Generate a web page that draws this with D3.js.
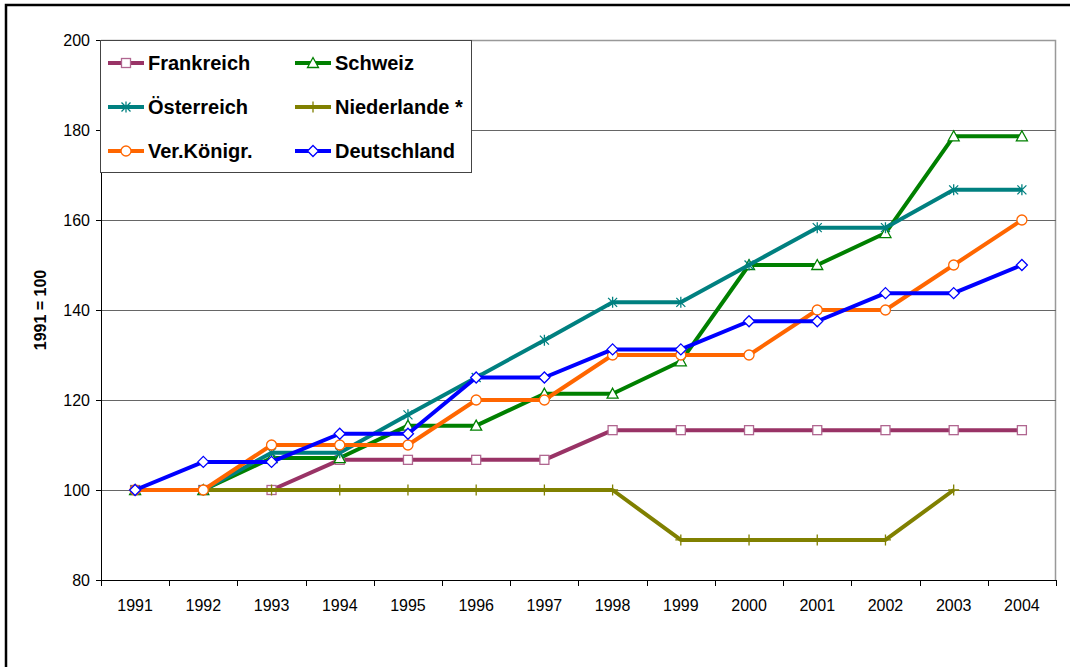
<!DOCTYPE html>
<html>
<head>
<meta charset="utf-8">
<script src="https://cdn.jsdelivr.net/npm/d3@7"></script>
<style>
  body { margin: 0; background: #fff; }
  text { font-family: "Liberation Sans", Arial, sans-serif; }
</style>
</head>
<body>
<div id="chart"></div>
<script>
// years on the x axis
var years = ["1991","1992","1993","1994","1995","1996","1997","1998","1999","2000","2001","2002","2003","2004"];
var yTicks = [80, 100, 120, 140, 160, 180, 200];

// series values, index 1991 = 100
var frankreich  = [100, 100, 100, 106.7, 106.7, 106.7, 106.7, 113.3, 113.3, 113.3, 113.3, 113.3, 113.3, 113.3];
var schweiz     = [100, 100, 107.1, 107.1, 114.3, 114.3, 121.4, 121.4, 128.6, 150, 150, 157.1, 178.6, 178.6];
var oesterreich = [100, 100, 108.3, 108.3, 116.7, 125, 133.3, 141.7, 141.7, 150, 158.3, 158.3, 166.7, 166.7];
var niederlande = [100, 100, 100, 100, 100, 100, 100, 100, 88.9, 88.9, 88.9, 88.9, 100, null];
var vkoenigr    = [100, 100, 110, 110, 110, 120, 120, 130, 130, 130, 140, 140, 150, 160];
var deutschland = [100, 106.25, 106.25, 112.5, 112.5, 125, 125, 131.25, 131.25, 137.5, 137.5, 143.75, 143.75, 150];

var series = [
  {name: "Frankreich",    values: frankreich,  color: "#993366", marker: "square"},
  {name: "Schweiz",       values: schweiz,     color: "#008000", marker: "triangle"},
  {name: "Österreich",    values: oesterreich, color: "#008080", marker: "star"},
  {name: "Niederlande *", values: niederlande, color: "#808000", marker: "plus"},
  {name: "Ver.Königr.",   values: vkoenigr,    color: "#FF6600", marker: "circle"},
  {name: "Deutschland",   values: deutschland, color: "#0000FF", marker: "diamond"}
];

var W = 1070, H = 667;
var margin = {top: 40, right: 14, bottom: 87, left: 101};
var width = W - margin.left - margin.right,
    height = H - margin.top - margin.bottom;

var root = d3.select("#chart").append("svg")
    .attr("width", W)
    .attr("height", H);

// outer frame (only left and top edges show in the picture)
root.append("rect")
    .attr("x", 6).attr("y", 5)
    .attr("width", W + 20).attr("height", H + 20)
    .attr("fill", "none")
    .attr("stroke", "#000")
    .attr("stroke-width", 2.5);

var svg = root.append("g")
    .attr("transform", `translate(${margin.left},${margin.top})`);

var xscale = d3.scaleBand().domain(years).range([0, width]);
var yscale = d3.scaleLinear().domain([80, 200]).range([height, 0]);

// plot area border (top and right)
svg.append("path")
    .attr("d", `M0,0.5H${width - 0.5}V${height}`)
    .attr("fill", "none")
    .attr("stroke", "#999")
    .attr("stroke-width", 1.5);

// gridlines
svg.selectAll(".grid")
    .data(yTicks.filter(function(d){ return d > 80 && d < 200; }))
    .join("line")
    .attr("class", "grid")
    .attr("x1", 0).attr("x2", width)
    .attr("y1", function(d){ return Math.round(yscale(d)) + 0.5; })
    .attr("y2", function(d){ return Math.round(yscale(d)) + 0.5; })
    .attr("stroke", "#666")
    .attr("stroke-width", 1);

// y axis
var yAxis = d3.axisLeft(yscale).tickValues(yTicks).tickSize(5).tickPadding(6);
var gy = svg.append("g").call(yAxis);
gy.select(".domain").attr("stroke", "#000");
gy.selectAll("text").style("font-size", "16px").attr("fill", "#000");

// x axis: ticks between categories
var gx = svg.append("g").attr("transform", `translate(0,${height})`);
gx.append("line")
    .attr("x1", 0).attr("x2", width)
    .attr("y1", 0.5).attr("y2", 0.5)
    .attr("stroke", "#000");
gx.selectAll(".xtick")
    .data(d3.range(years.length + 1))
    .join("line")
    .attr("class", "xtick")
    .attr("x1", function(i){ return Math.round(i * xscale.step()) + 0.5; })
    .attr("x2", function(i){ return Math.round(i * xscale.step()) + 0.5; })
    .attr("y1", 0).attr("y2", 6)
    .attr("stroke", "#000");
gx.selectAll(".xlabel")
    .data(years)
    .join("text")
    .attr("class", "xlabel")
    .attr("x", function(d){ return xscale(d) + xscale.bandwidth() / 2; })
    .attr("y", 31)
    .attr("text-anchor", "middle")
    .style("font-size", "16px")
    .text(function(d){ return d; });

// y axis label
svg.append("text")
    .attr("transform", "rotate(-90)")
    .attr("x", -270)
    .attr("y", -55)
    .attr("text-anchor", "middle")
    .style("font-size", "16px")
    .style("font-weight", "bold")
    .text("1991 = 100");

// markers
function drawMarker(g, type, color, s) {
  var r = s / 2;
  if (type === "square") {
    g.append("rect").attr("x", -r).attr("y", -r).attr("width", s).attr("height", s)
      .attr("fill", "#fff").attr("stroke", "#b06690").attr("stroke-width", 1.3);
  } else if (type === "triangle") {
    g.append("path").attr("d", `M0,${-r - 1}L${r + 1},${r}L${-r - 1},${r}Z`)
      .attr("fill", "#fff").attr("stroke", color).attr("stroke-width", 1.3);
  } else if (type === "circle") {
    g.append("circle").attr("r", r + 0.5)
      .attr("fill", "#fff").attr("stroke", color).attr("stroke-width", 1.3);
  } else if (type === "diamond") {
    g.append("path").attr("d", `M0,${-r - 1}L${r + 1},0L0,${r + 1}L${-r - 1},0Z`)
      .attr("fill", "#fff").attr("stroke", color).attr("stroke-width", 1.3);
  } else if (type === "star") {
    g.append("path").attr("d", `M${-r},${-r}L${r},${r}M${-r},${r}L${r},${-r}M0,${-r - 1}V${r + 1}`)
      .attr("fill", "none").attr("stroke", color).attr("stroke-width", 1.3);
  } else if (type === "plus") {
    g.append("path").attr("d", `M${-r - 1},0H${r + 1}M0,${-r - 1}V${r + 1}`)
      .attr("fill", "none").attr("stroke", color).attr("stroke-width", 1.3);
  }
}

var valueline = d3.line()
    .defined(function(d){ return d != null; })
    .x(function(d, i){ return xscale(years[i]) + xscale.bandwidth() / 2; })
    .y(function(d){ return yscale(d); });

series.forEach(function(s) {
  svg.append("path")
      .datum(s.values)
      .attr("d", valueline)
      .attr("fill", "none")
      .attr("stroke", s.color)
      .attr("stroke-width", 4)
      .attr("stroke-linejoin", "round");
  s.values.forEach(function(v, i) {
    if (v == null) return;
    var g = svg.append("g")
        .attr("transform", `translate(${xscale(years[i]) + xscale.bandwidth() / 2},${yscale(v)})`);
    drawMarker(g, s.marker, s.color, 9);
  });
});

// legend
var legend = svg.append("g").attr("transform", "translate(-1,0)");
legend.append("rect")
    .attr("x", 0.5).attr("y", 0.5)
    .attr("width", 371).attr("height", 132)
    .attr("fill", "#fff")
    .attr("stroke", "#444")
    .attr("stroke-width", 1);

var legItems = legend.selectAll(".leg")
    .data(series)
    .join("g")
    .attr("class", "leg")
    .attr("transform", function(d, i){
      return `translate(${i % 2 === 0 ? 8 : 195},${23 + Math.floor(i / 2) * 44})`;
    });

legItems.append("line")
    .attr("x1", 0).attr("x2", 36)
    .attr("y1", 0).attr("y2", 0)
    .attr("stroke", function(d){ return d.color; })
    .attr("stroke-width", 4);
legItems.each(function(d) {
  var g = d3.select(this).append("g").attr("transform", "translate(18,0)");
  drawMarker(g, d.marker, d.color, 9);
});
legItems.append("text")
    .attr("x", 40)
    .attr("y", 7)
    .style("font-size", "20px")
    .style("font-weight", "bold")
    .text(function(d){ return d.name; });
</script>
</body>
</html>
